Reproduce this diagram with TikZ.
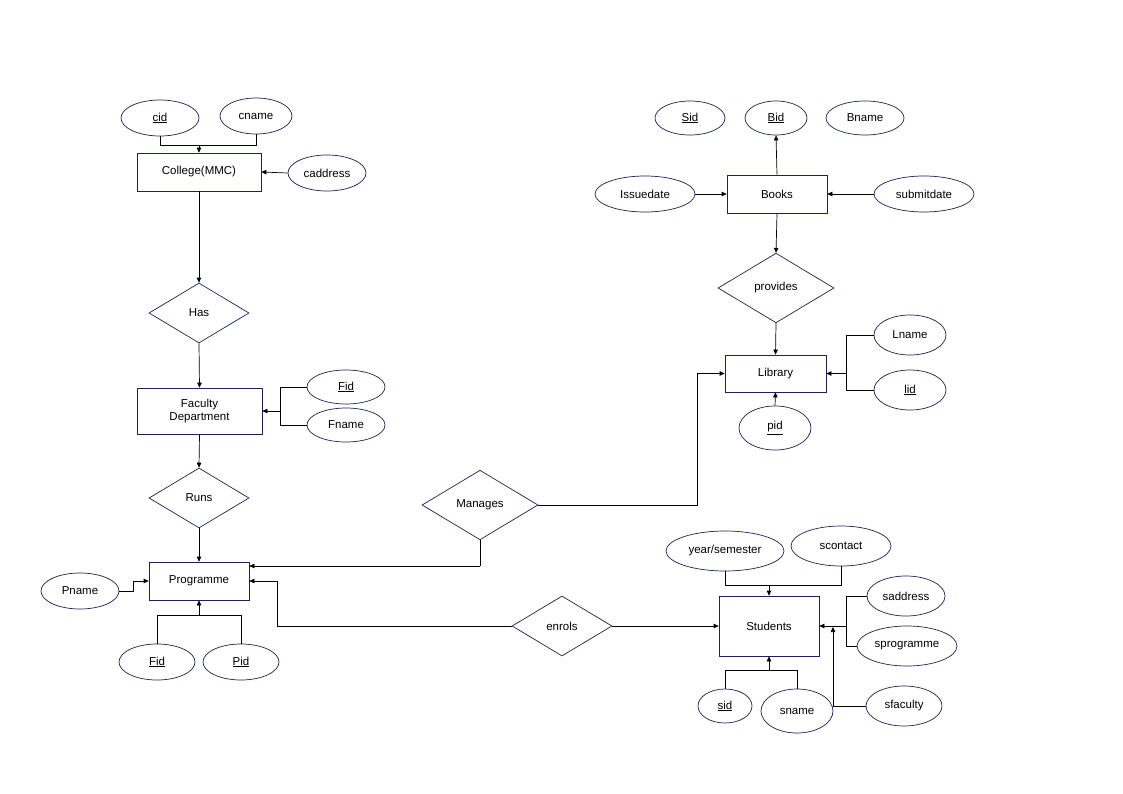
\documentclass[tikz,border=0pt]{standalone}
\usepackage{fontspec}
\setmainfont{Liberation Sans}
\usetikzlibrary{shapes.geometric,arrows.meta}
\definecolor{nv}{HTML}{1F1F5A}
\begin{document}
\begin{tikzpicture}[x=1pt,y=-1pt,font=\fontsize{11.5}{13.5}\selectfont,
 ent/.style={draw=nv,rectangle,minimum width=#1,inner sep=0pt,align=center},
 att/.style={draw=nv,ellipse,minimum height=36pt,inner sep=0pt,minimum width=#1},
 rel/.style={draw=nv,diamond,aspect=1.66,inner sep=0pt,minimum width=#1,minimum height=0.6*#1},
 ar/.style={-{Triangle[length=5pt,width=4.5pt]}},
 line width=0.7pt]
\useasboundingbox (0,0) rectangle (1123,794);
% left column
\node[att=78] (cid) at (160,118) {\underline{cid}};
\node[att=72] (cname) at (256,116) {cname};
\node[ent=124,minimum height=38pt] (col) at (199,172) {College(MMC)};
\node[att=78] (cadd) at (327,173) {caddress};
\node[rel=100] (has) at (199,313) {Has};
\node[ent=125,minimum height=46pt] (fd) at (199.5,411) {Faculty\\[-1pt]Department};
\node[att=78,minimum height=34pt] (fid1) at (346,387) {\underline{Fid}};
\node[att=78,minimum height=34pt] (fname) at (346,425) {Fname};
\node[rel=100] (runs) at (199,498) {Runs};
\node[ent=100,minimum height=38pt] (prog) at (199,581) {Programme};
\node[att=78] (pname) at (80,591) {Pname};
\node[att=76] (fid2) at (157,662) {\underline{Fid}};
\node[att=76] (pid1) at (241,662) {\underline{Pid}};
\node[rel=116] (man) at (480,505) {Manages};
\node[rel=100] (enr) at (562,626) {enrols};
% students
\node[ent=100,minimum height=60pt] (stu) at (769,626) {Students};
\node[att=118,minimum height=40pt] (ys) at (725,551) {year/semester};
\node[att=100,minimum height=40pt] (sc) at (841,546) {scontact};
\node[att=78,minimum height=40pt] (sadd) at (906,596) {saddress};
\node[att=100,minimum height=40pt] (sprog) at (907,646) {sprogramme};
\node[att=76,minimum height=40pt] (sfac) at (904,706) {sfaculty};
\node[att=54,minimum height=34pt] (sid) at (725,706) {\underline{sid}};
\node[att=72,minimum height=44pt] (sname) at (797,711) {sname};
% books/library
\node[ent=100,minimum height=38pt] (books) at (777,194) {Books};
\node[att=70,minimum height=34pt] (Sid) at (690,118) {\underline{Sid}};
\node[att=62,minimum height=34pt] (bid) at (776,118) {\underline{Bid}};
\node[att=78,minimum height=34pt] (bname) at (865,118) {Bname};
\node[att=100] (iss) at (645,194) {Issuedate};
\node[att=100] (sub) at (924,194) {submitdate};
\node[rel=116] (prov) at (776,288) {provides};
\node[ent=101,minimum height=37pt] (lib) at (775.5,373.5) {Library};
\node[att=72,minimum height=40pt] (lname) at (910,335) {Lname};
\node[att=72,minimum height=40pt] (lid) at (910,390) {\underline{lid}};
\node[att=72,minimum height=44pt] (pid2) at (775,428) {\underline{pid}};
% connectors
\coordinate (j1) at (199,145);
\draw (cid.south) |- (j1); \draw (cname.south) |- (j1);
\draw[ar] (j1) -- (col.north);
\draw[ar] (cadd.west) -- (col.east);
\draw[ar] (col.south) -- (has.north);
\draw[ar] (has.south) -- (fd.north);
\coordinate (j2) at (280,411);
\draw (fid1.west) -| (j2); \draw (fname.west) -| (j2);
\draw[ar] (j2) -- (fd.east);
\draw[ar] (fd.south) -- (runs.north);
\draw[ar] (runs.south) -- (prog.north);
\coordinate (j3) at (133,581);
\draw (pname.east) -| (j3); \draw[ar] (j3) -- (prog.west);
\coordinate (j4) at (199,615);
\draw (fid2.north) |- (j4); \draw (pid1.north) |- (j4);
\draw[ar] (j4) -- (prog.south);
\coordinate (j5) at (480,566);
\draw (man.south) -- (j5); \draw[ar] (j5) -- (prog.east |- j5);
\coordinate (j6) at (697,373.5);
\draw (man.east) -| (j6); \draw[ar] (j6) -- (lib.west);
\coordinate (j7) at (277,581);
\draw (enr.west) -| (j7); \draw[ar] (j7) -- (prog.east);
\draw[ar] (enr.east) -- (stu.west);
\coordinate (j8) at (769,585);
\draw (ys.south) |- (j8); \draw (sc.south) |- (j8);
\draw[ar] (j8) -- (stu.north);
\coordinate (j9) at (846,626);
\draw (sadd.west) -| (j9); \draw (sprog.west) -| (j9);
\draw[ar] (j9) -- (stu.east);
\coordinate (j10) at (833,706);
\draw (sfac.west) -- (j10); \draw[ar] (j10) -- (833,627);
\coordinate (j11) at (769,670);
\draw (sid.north) |- (j11); \draw (sname.north) |- (j11);
\draw[ar] (j11) -- (stu.south);
\draw[ar] (books.north) -- (bid.south);
\draw[ar] (iss.east) -- (books.west);
\draw[ar] (sub.west) -- (books.east);
\draw[ar] (books.south) -- (prov.north);
\draw[ar] (prov.south) -- (lib.north);
\coordinate (j12) at (846,373.5);
\draw (lname.west) -| (j12); \draw (lid.west) -| (j12);
\draw[ar] (j12) -- (lib.east);
\draw[ar] (pid2.north) -- (lib.south);
\end{tikzpicture}
\end{document}
